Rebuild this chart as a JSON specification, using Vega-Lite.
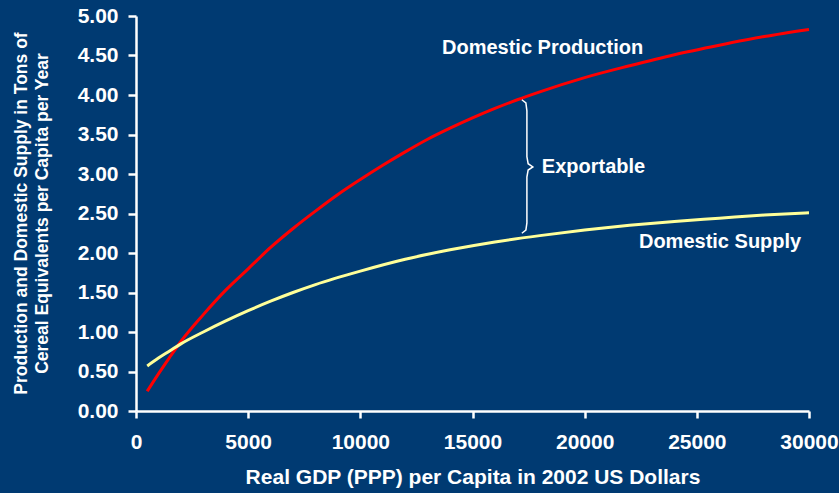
{
  "$schema": "https://vega.github.io/schema/vega-lite/v6.json",
  "width": 673,
  "height": 395,
  "autosize": {"type": "none"},
  "padding": {"left": 136, "top": 16, "right": 30, "bottom": 82},
  "background": "#003a72",
  "config": {
    "view": {"stroke": null},
    "font": "Liberation Sans",
    "axis": {
      "domainColor": "white", "domainWidth": 2.5,
      "tickColor": "white", "tickWidth": 2.5,
      "labelColor": "white", "labelFont": "Liberation Sans", "labelFontWeight": "bold", "labelFontSize": 21,
      "labelOverlap": false, "labelFlush": false,
      "titleColor": "white", "titleFont": "Liberation Sans", "titleFontWeight": "bold",
      "grid": false
    }
  },
  "datasets": {
    "curves": [
      {"gdp": 500, "value": 0.25, "series": "Domestic Production"},
      {"gdp": 1000, "value": 0.47, "series": "Domestic Production"},
      {"gdp": 1500, "value": 0.68, "series": "Domestic Production"},
      {"gdp": 2000, "value": 0.88, "series": "Domestic Production"},
      {"gdp": 3000, "value": 1.22, "series": "Domestic Production"},
      {"gdp": 4000, "value": 1.53, "series": "Domestic Production"},
      {"gdp": 5000, "value": 1.8, "series": "Domestic Production"},
      {"gdp": 6000, "value": 2.07, "series": "Domestic Production"},
      {"gdp": 7000, "value": 2.31, "series": "Domestic Production"},
      {"gdp": 8000, "value": 2.53, "series": "Domestic Production"},
      {"gdp": 9000, "value": 2.74, "series": "Domestic Production"},
      {"gdp": 10000, "value": 2.93, "series": "Domestic Production"},
      {"gdp": 11000, "value": 3.11, "series": "Domestic Production"},
      {"gdp": 12000, "value": 3.28, "series": "Domestic Production"},
      {"gdp": 13000, "value": 3.44, "series": "Domestic Production"},
      {"gdp": 14000, "value": 3.58, "series": "Domestic Production"},
      {"gdp": 15000, "value": 3.71, "series": "Domestic Production"},
      {"gdp": 16000, "value": 3.83, "series": "Domestic Production"},
      {"gdp": 17000, "value": 3.94, "series": "Domestic Production"},
      {"gdp": 18000, "value": 4.04, "series": "Domestic Production"},
      {"gdp": 20000, "value": 4.22, "series": "Domestic Production"},
      {"gdp": 22000, "value": 4.37, "series": "Domestic Production"},
      {"gdp": 24000, "value": 4.51, "series": "Domestic Production"},
      {"gdp": 26000, "value": 4.63, "series": "Domestic Production"},
      {"gdp": 28000, "value": 4.74, "series": "Domestic Production"},
      {"gdp": 30000, "value": 4.83, "series": "Domestic Production"},
      {"gdp": 500, "value": 0.57, "series": "Domestic Supply"},
      {"gdp": 1000, "value": 0.67, "series": "Domestic Supply"},
      {"gdp": 1500, "value": 0.76, "series": "Domestic Supply"},
      {"gdp": 2000, "value": 0.85, "series": "Domestic Supply"},
      {"gdp": 3000, "value": 1.0, "series": "Domestic Supply"},
      {"gdp": 4000, "value": 1.14, "series": "Domestic Supply"},
      {"gdp": 5000, "value": 1.27, "series": "Domestic Supply"},
      {"gdp": 6000, "value": 1.39, "series": "Domestic Supply"},
      {"gdp": 7000, "value": 1.5, "series": "Domestic Supply"},
      {"gdp": 8000, "value": 1.6, "series": "Domestic Supply"},
      {"gdp": 10000, "value": 1.77, "series": "Domestic Supply"},
      {"gdp": 12000, "value": 1.92, "series": "Domestic Supply"},
      {"gdp": 14000, "value": 2.04, "series": "Domestic Supply"},
      {"gdp": 16000, "value": 2.14, "series": "Domestic Supply"},
      {"gdp": 18000, "value": 2.22, "series": "Domestic Supply"},
      {"gdp": 20000, "value": 2.29, "series": "Domestic Supply"},
      {"gdp": 22000, "value": 2.35, "series": "Domestic Supply"},
      {"gdp": 24000, "value": 2.4, "series": "Domestic Supply"},
      {"gdp": 26000, "value": 2.44, "series": "Domestic Supply"},
      {"gdp": 28000, "value": 2.48, "series": "Domestic Supply"},
      {"gdp": 30000, "value": 2.51, "series": "Domestic Supply"}
    ],
    "brace": [
      {"i": 1, "gdp": 17200, "value": 3.94},
      {"i": 2, "gdp": 17380, "value": 3.9},
      {"i": 3, "gdp": 17425, "value": 3.8},
      {"i": 4, "gdp": 17425, "value": 3.22},
      {"i": 5, "gdp": 17480, "value": 3.13},
      {"i": 6, "gdp": 17690, "value": 3.09},
      {"i": 7, "gdp": 17480, "value": 3.05},
      {"i": 8, "gdp": 17425, "value": 2.96},
      {"i": 9, "gdp": 17425, "value": 2.38},
      {"i": 10, "gdp": 17380, "value": 2.29},
      {"i": 11, "gdp": 17200, "value": 2.25}
    ],
    "labels": [
      {"gdp": 13640, "value": 4.6, "label": "Domestic Production"},
      {"gdp": 18090, "value": 3.09, "label": "Exportable"},
      {"gdp": 22420, "value": 2.14, "label": "Domestic Supply"}
    ]
  },
  "encoding": {
    "x": {"field": "gdp", "type": "quantitative",
          "scale": {"domain": [0, 30000], "nice": false},
          "axis": {"values": [0, 5000, 10000, 15000, 20000, 25000, 30000], "format": "d",
                   "tickSize": 7, "labelPadding": 13, "labelOverlap": false, "labelFlush": false,
                   "title": "Real GDP (PPP) per Capita in 2002 US Dollars", "titleFontSize": 21, "titlePadding": 14}},
    "y": {"field": "value", "type": "quantitative",
          "scale": {"domain": [0, 5], "nice": false},
          "axis": {"values": [0, 0.5, 1, 1.5, 2, 2.5, 3, 3.5, 4, 4.5, 5], "format": ".2f",
                   "tickSize": 8, "labelPadding": 10, "labelOverlap": false, "labelFlush": false,
                   "title": ["Production and Domestic Supply in Tons of", "Cereal Equivalents per Capita per Year"],
                   "titleFontSize": 17.5, "titleLineHeight": 21, "titleAngle": -90,
                   "titleX": -124, "titleY": 197, "titleAlign": "center", "titleBaseline": "top"}}
  },
  "layer": [
    {
      "data": {"name": "curves"},
      "mark": {"type": "line", "strokeWidth": 3, "interpolate": "monotone"},
      "encoding": {
        "color": {"field": "series", "type": "nominal",
                  "scale": {"domain": ["Domestic Production", "Domestic Supply"], "range": ["#ff0000", "#ffff99"]},
                  "legend": null}
      }
    },
    {
      "data": {"name": "brace"},
      "mark": {"type": "line", "strokeWidth": 1.5, "color": "white", "interpolate": "linear"},
      "encoding": {
        "order": {"field": "i", "type": "quantitative"}
      }
    },
    {
      "data": {"name": "labels"},
      "mark": {"type": "text", "align": "left", "baseline": "middle", "fontSize": 20, "fontWeight": "bold", "color": "white", "font": "Liberation Sans"},
      "encoding": {
        "text": {"field": "label"}
      }
    }
  ]
}
